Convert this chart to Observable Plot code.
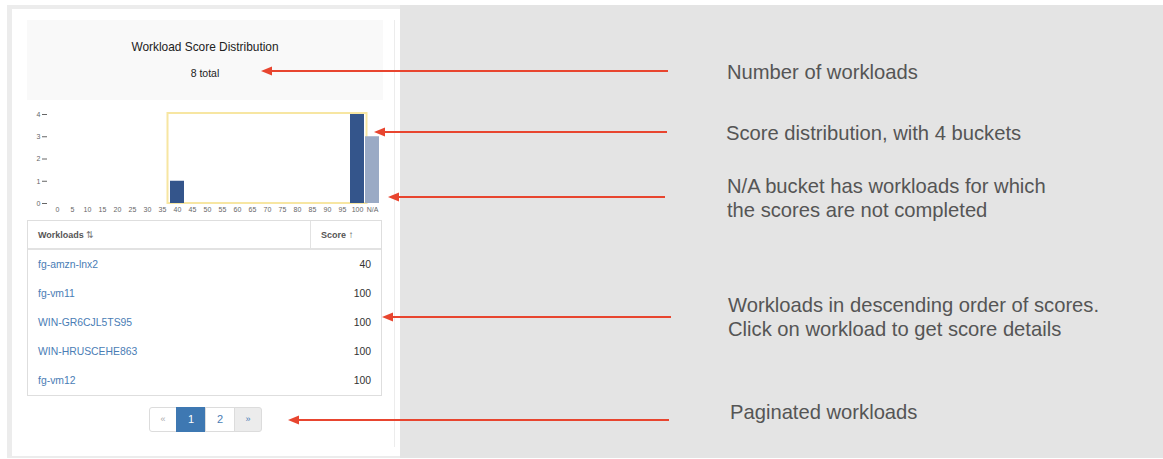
<!DOCTYPE html>
<html><head><meta charset="utf-8">
<script src="https://cdn.jsdelivr.net/npm/d3@7"></script>
<script src="https://cdn.jsdelivr.net/npm/@observablehq/plot@0.6"></script>
<style>
body{margin:0;background:#fff;font-family:"Liberation Sans",Arial,Helvetica,sans-serif;}
#page{position:relative;width:1163px;height:459px;overflow:hidden;}
.abs{position:absolute;box-sizing:border-box;}
</style></head><body><div id="page"></div>
<script>
// ---- data ----
const chartTitle = "Workload Score Distribution";
const totalWorkloads = 8;
const buckets = ["0","5","10","15","20","25","30","35","40","45","50","55","60","65","70","75","80","85","90","95","100","N/A"];
const scoredBuckets = ["40","100"];
const scoredCounts = [1, 4];
const naBuckets = ["N/A"];
const naCounts = [3];
const highlightFrom = "40";
const highlightTo = "100";
const yTicks = [0, 1, 2, 3, 4];
const workloadNames = ["fg-amzn-lnx2","fg-vm11","WIN-GR6CJL5TS95","WIN-HRUSCEHE863","fg-vm12"];
const workloadScores = [40, 100, 100, 100, 100];
const pageLabels = ["«","1","2","»"];
const activePage = "1";
const noteTexts = [
  ["Number of workloads"],
  ["Score distribution, with 4 buckets"],
  ["N/A bucket has workloads for which","the scores are not completed"],
  ["Workloads in descending order of scores.","Click on workload to get score details"],
  ["Paginated workloads"]
];

// ---- layout ----
const page = document.getElementById("page");
function box(css, html) {
  const d = document.createElement("div");
  d.className = "abs";
  d.style.cssText = css;
  if (html !== undefined) d.innerHTML = html;
  page.appendChild(d);
  return d;
}
box("left:400px;top:5px;width:763px;height:453px;background:#e4e4e4;");
box("left:7px;top:5px;width:393px;height:453px;background:#ececec;");
box("left:12px;top:9px;width:388px;height:447px;background:#fff;");
box("left:394px;top:20px;width:1px;height:427px;background:#ececec;");
box("left:27px;top:20px;width:356px;height:80px;background:#f9f9f9;");
box("left:27px;top:38px;width:356px;height:18px;line-height:18px;text-align:center;font-size:11.9px;color:#222;", chartTitle);
box("left:27px;top:64px;width:356px;height:18px;line-height:18px;text-align:center;font-size:10.5px;color:#222;", totalWorkloads + " total");

// ---- histogram ----
const scoredData = scoredBuckets.map((b, i) => ({bucket: b, count: scoredCounts[i]}));
const naData = naBuckets.map((b, i) => ({bucket: b, count: naCounts[i]}));
function highlightBox(index, scales, values, dimensions, context) {
  const sx = scales.x, sy = scales.y;
  const bw = sx.bandwidth ? sx.bandwidth() : scales.scales.x.bandwidth;
  const ns = "http://www.w3.org/2000/svg";
  const r = document.createElementNS(ns, "rect");
  const x1 = sx(highlightFrom) - 2.5, x2 = sx(highlightTo) + bw + 2.5;
  const y1 = sy(d3.max(yTicks)) - 1, y2 = sy(0);
  r.setAttribute("x", x1); r.setAttribute("y", y1);
  r.setAttribute("width", x2 - x1); r.setAttribute("height", y2 - y1);
  r.setAttribute("fill", "none"); r.setAttribute("stroke", "#f7e6a2"); r.setAttribute("stroke-width", 2);
  return r;
}
const chart = Plot.plot({
  width: 364, height: 113,
  marginLeft: 27, marginRight: 3, marginTop: 9, marginBottom: 15,
  style: {fontSize: "7px", fontFamily: "'Liberation Sans', Arial, sans-serif", color: "#666", background: "transparent", overflow: "visible"},
  x: {domain: buckets, padding: 0.07, label: null, tickSize: 0, tickPadding: 4},
  y: {domain: [0, d3.max(yTicks)], ticks: yTicks, tickFormat: d => String(d), label: null, tickSize: 5, tickPadding: 2},
  marks: [
    highlightBox,
    Plot.barY(scoredData, {x: "bucket", y: "count", fill: "#34558b"}),
    Plot.barY(naData, {x: "bucket", y: "count", fill: "#9aaac5"})
  ]
});
const holder = box("left:20px;top:105px;width:364px;height:113px;");
holder.appendChild(chart);

// ---- table ----
const tbl = box("left:27px;top:220px;width:355px;height:176px;border:1px solid #dedede;background:#fff;");
box("left:28px;top:221px;width:353px;height:29px;border-bottom:2px solid #e2e2e2;background:#fff;");
box("left:310px;top:221px;width:1px;height:28px;background:#e2e2e2;");
box("left:38px;top:227px;height:16px;line-height:16px;font-size:9px;font-weight:bold;color:#555;", "Workloads <span style='font-weight:normal;color:#777'>⇅</span>");
box("left:321px;top:227px;height:16px;line-height:16px;font-size:9px;font-weight:bold;color:#555;", "Score <span style='font-weight:normal;font-size:10px'>↑</span>");
workloadNames.forEach((n, i) => {
  const top = 257 + i * 29;
  box(`left:38px;top:${top}px;height:16px;line-height:16px;font-size:10.4px;color:#4a7db5;`, n);
  box(`left:300px;top:${top}px;width:71px;height:16px;line-height:16px;font-size:10.4px;color:#333;text-align:right;`, String(workloadScores[i]));
});

// ---- pagination ----
const pw = [27, 29, 29, 27];
let px = 149;
pageLabels.forEach((p, i) => {
  const active = p === activePage;
  const isNext = i === pageLabels.length - 1;
  const isPrev = i === 0;
  const bg = active ? "#3e78b2" : isNext ? "#ececec" : "#fff";
  const col = active ? "#fff" : isPrev ? "#aaa" : "#4a7db5";
  const radius = isPrev ? "border-radius:3px 0 0 3px;" : isNext ? "border-radius:0 3px 3px 0;" : "";
  box(`left:${px}px;top:407px;width:${pw[i] + 1}px;height:25px;line-height:23px;border:1px solid ${active ? "#3e78b2" : "#dcdcdc"};${radius}background:${bg};color:${col};text-align:center;font-size:${isPrev || isNext ? 9 : 11}px;`, p);
  px += pw[i];
});

// ---- annotations ----
const ns = "http://www.w3.org/2000/svg";
const ov = document.createElementNS(ns, "svg");
ov.setAttribute("width", 1163); ov.setAttribute("height", 459);
ov.style.cssText = "position:absolute;left:0;top:0;pointer-events:none;";
page.appendChild(ov);
const arrows = [
  {y: 71, from: 668, tip: 261},
  {y: 132, from: 667, tip: 374},
  {y: 197, from: 665, tip: 388},
  {y: 317, from: 671, tip: 382},
  {y: 420, from: 669, tip: 288}
];
const notePos = [
  {x: 727, y: 79}, {x: 726, y: 140}, {x: 727, y: 193}, {x: 728, y: 312}, {x: 730, y: 419}
];
arrows.forEach(a => {
  const l = document.createElementNS(ns, "line");
  l.setAttribute("x1", a.from); l.setAttribute("x2", a.tip + 8);
  l.setAttribute("y1", a.y); l.setAttribute("y2", a.y);
  l.setAttribute("stroke", "#e8452f"); l.setAttribute("stroke-width", 2);
  ov.appendChild(l);
  const h = document.createElementNS(ns, "polygon");
  h.setAttribute("points", `${a.tip},${a.y} ${a.tip + 11},${a.y - 4.5} ${a.tip + 11},${a.y + 4.5}`);
  h.setAttribute("fill", "#e8452f");
  ov.appendChild(h);
});
noteTexts.forEach((lines, i) => {
  lines.forEach((s, j) => {
    const t = document.createElementNS(ns, "text");
    t.setAttribute("x", notePos[i].x); t.setAttribute("y", notePos[i].y + j * 23.8);
    t.setAttribute("font-size", "20.2px");
    t.setAttribute("font-family", "'Liberation Sans', Arial, sans-serif");
    t.setAttribute("fill", "#555");
    t.textContent = s;
    ov.appendChild(t);
  });
});
</script></body></html>
